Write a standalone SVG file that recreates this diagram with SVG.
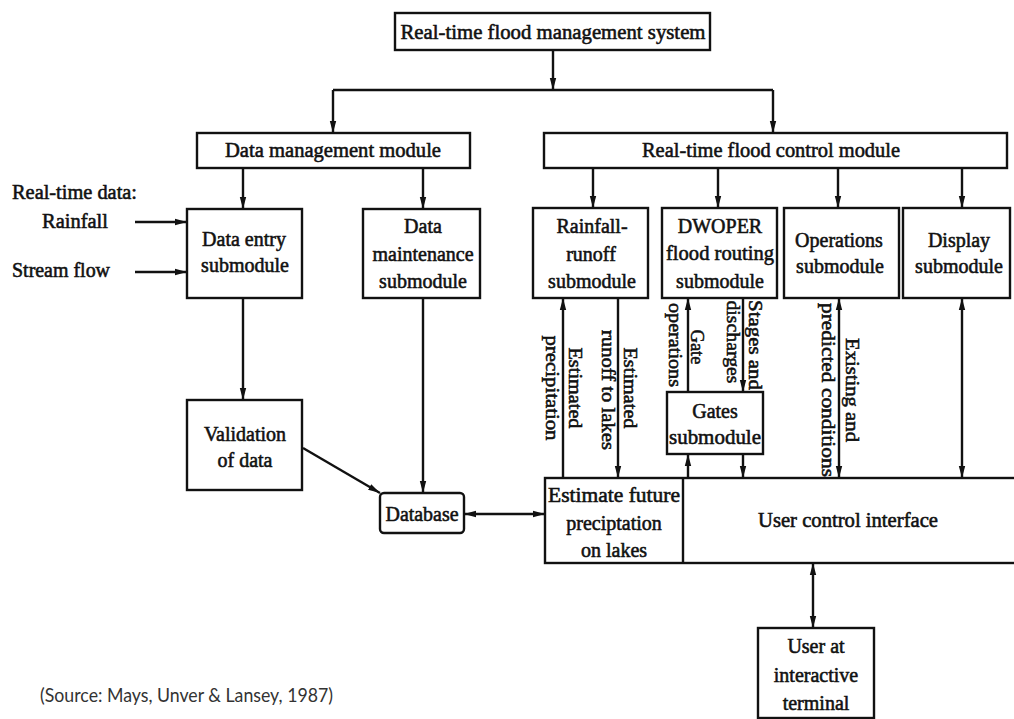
<svg xmlns="http://www.w3.org/2000/svg" width="1014" height="719" viewBox="0 0 1014 719">
  <style>
    .box { fill: #ffffff; stroke: #111111; stroke-width: 2.4; }
    .t { font-family: "Liberation Serif", "Times New Roman", serif; font-size: 20px; fill: #111111; stroke: #111111; stroke-width: 0.55; text-anchor: middle; }
    .tl { text-anchor: start; }
    .r { font-size: 19px; }
    .wire { fill: none; stroke: #111111; stroke-width: 2.4; }
    .src { font-family: "Lato", "Open Sans", "Liberation Sans", sans-serif; font-size: 19px; fill: #333333; }
  </style>
  <defs>
    <marker id="ah" viewBox="0 0 12 8" refX="12" refY="4" markerWidth="12" markerHeight="8" markerUnits="userSpaceOnUse" orient="auto">
      <path d="M0,0.8 L12,4 L0,7.2 z" fill="#111111"/>
    </marker>
    <marker id="ahs" viewBox="0 0 12 8" refX="0" refY="4" markerWidth="12" markerHeight="8" markerUnits="userSpaceOnUse" orient="auto">
      <path d="M12,0.8 L0,4 L12,7.2 z" fill="#111111"/>
    </marker>
  </defs>

  <rect width="1014" height="719" fill="#ffffff"/>

  <!-- connectors -->
  <g id="connectors">
    <path class="wire" d="M553,50 V90" marker-end="url(#ah)"/>
    <path class="wire" d="M333,90 H773"/>
    <path class="wire" d="M333,90 V133" marker-end="url(#ah)"/>
    <path class="wire" d="M773,90 V133" marker-end="url(#ah)"/>

    <path class="wire" d="M243,168 V209" marker-end="url(#ah)"/>
    <path class="wire" d="M423,168 V209" marker-end="url(#ah)"/>

    <path class="wire" d="M593,168 V208" marker-end="url(#ah)"/>
    <path class="wire" d="M718,168 V208" marker-end="url(#ah)"/>
    <path class="wire" d="M838,168 V208" marker-end="url(#ah)"/>
    <path class="wire" d="M962,168 V208" marker-end="url(#ah)"/>

    <path class="wire" d="M135,222 H187" marker-end="url(#ah)"/>
    <path class="wire" d="M135,272 H187" marker-end="url(#ah)"/>

    <path class="wire" d="M243,298 V400" marker-end="url(#ah)"/>
    <path class="wire" d="M303,448 L380,493" marker-end="url(#ah)"/>
    <path class="wire" d="M423,298 V493" marker-end="url(#ah)"/>
    <path class="wire" d="M464,514 H545" marker-start="url(#ahs)" marker-end="url(#ah)"/>

    <path class="wire" d="M563,478 V298" marker-end="url(#ah)"/>
    <path class="wire" d="M618,298 V478" marker-end="url(#ah)"/>
    <path class="wire" d="M688,392 V298" marker-end="url(#ah)"/>
    <path class="wire" d="M743,298 V392" marker-end="url(#ah)"/>
    <path class="wire" d="M688,478 V454" marker-end="url(#ah)"/>
    <path class="wire" d="M743,454 V478" marker-end="url(#ah)"/>
    <path class="wire" d="M839,298 V478" marker-start="url(#ahs)" marker-end="url(#ah)"/>
    <path class="wire" d="M962,298 V478" marker-start="url(#ahs)" marker-end="url(#ah)"/>
    <path class="wire" d="M813,563 V628" marker-start="url(#ahs)" marker-end="url(#ah)"/>
  </g>

  <!-- flow labels along the vertical links -->
  <g id="flow-labels" class="t r">
    <text transform="translate(569,388) rotate(90)" textLength="81" lengthAdjust="spacingAndGlyphs">Estimated</text>
    <text transform="translate(546,388) rotate(90)" textLength="105" lengthAdjust="spacingAndGlyphs">precipitation</text>
    <text transform="translate(624,388) rotate(90)" textLength="81" lengthAdjust="spacingAndGlyphs">Estimated</text>
    <text transform="translate(602,390) rotate(90)" textLength="120" lengthAdjust="spacingAndGlyphs">runoff to lakes</text>
    <text transform="translate(691,347) rotate(90)" textLength="35" lengthAdjust="spacingAndGlyphs">Gate</text>
    <text transform="translate(669,345) rotate(90)" textLength="84" lengthAdjust="spacingAndGlyphs">operations</text>
    <text transform="translate(749,345) rotate(90)" textLength="90" lengthAdjust="spacingAndGlyphs">Stages and</text>
    <text transform="translate(727,342) rotate(90)" textLength="83" lengthAdjust="spacingAndGlyphs">discharges</text>
    <text transform="translate(846,390) rotate(90)" textLength="104" lengthAdjust="spacingAndGlyphs">Existing and</text>
    <text transform="translate(822,390) rotate(90)" textLength="174" lengthAdjust="spacingAndGlyphs">predicted conditions</text>
  </g>

  <!-- inputs -->
  <g id="inputs" class="t tl">
    <text x="12" y="199" textLength="125" lengthAdjust="spacingAndGlyphs">Real-time data:</text>
    <text x="42" y="228" textLength="66" lengthAdjust="spacingAndGlyphs">Rainfall</text>
    <text x="12" y="277" textLength="98" lengthAdjust="spacingAndGlyphs">Stream flow</text>
  </g>

  <g id="system">
    <rect class="box" x="395" y="13" width="315" height="37"/>
    <text class="t" x="553" y="39" textLength="305" lengthAdjust="spacingAndGlyphs">Real-time flood management system</text>
  </g>

  <g id="data-management">
    <rect class="box" x="197" y="133" width="273" height="35"/>
    <text class="t" x="333" y="157" textLength="216" lengthAdjust="spacingAndGlyphs">Data management module</text>
  </g>

  <g id="flood-control">
    <rect class="box" x="544" y="133" width="463" height="35"/>
    <text class="t" x="771" y="157" textLength="258" lengthAdjust="spacingAndGlyphs">Real-time flood control module</text>
  </g>

  <g id="data-entry">
    <rect class="box" x="187" y="209" width="115" height="89"/>
    <text class="t" x="244" y="246">Data entry</text>
    <text class="t" x="245" y="272">submodule</text>
  </g>

  <g id="data-maintenance">
    <rect class="box" x="363" y="209" width="117" height="89"/>
    <text class="t" x="423" y="233">Data</text>
    <text class="t" x="423" y="261">maintenance</text>
    <text class="t" x="423" y="288">submodule</text>
  </g>

  <g id="rainfall-runoff">
    <rect class="box" x="533" y="208" width="115" height="90"/>
    <text class="t" x="592" y="233">Rainfall-</text>
    <text class="t" x="591" y="261">runoff</text>
    <text class="t" x="592" y="288">submodule</text>
  </g>

  <g id="dwoper">
    <rect class="box" x="662" y="208" width="115" height="90"/>
    <text class="t" x="720" y="233">DWOPER</text>
    <text class="t" x="720" y="260" textLength="108" lengthAdjust="spacingAndGlyphs">flood routing</text>
    <text class="t" x="720" y="288">submodule</text>
  </g>

  <g id="operations">
    <rect class="box" x="784" y="208" width="115" height="90"/>
    <text class="t" x="839" y="247">Operations</text>
    <text class="t" x="840" y="273">submodule</text>
  </g>

  <g id="display">
    <rect class="box" x="903" y="208" width="107" height="90"/>
    <text class="t" x="959" y="247">Display</text>
    <text class="t" x="959" y="273">submodule</text>
  </g>

  <g id="gates">
    <rect class="box" x="667" y="392" width="96" height="62"/>
    <text class="t" x="715" y="418">Gates</text>
    <text class="t" x="715" y="444" textLength="92" lengthAdjust="spacingAndGlyphs">submodule</text>
  </g>

  <g id="validation">
    <rect class="box" x="187" y="400" width="115" height="90"/>
    <text class="t" x="245" y="441">Validation</text>
    <text class="t" x="245" y="467">of data</text>
  </g>

  <g id="database">
    <rect class="box" x="380" y="493" width="84" height="40" rx="4"/>
    <text class="t" x="422" y="521" textLength="73" lengthAdjust="spacingAndGlyphs">Database</text>
  </g>

  <g id="user-control-interface">
    <rect class="box" x="545" y="478" width="480" height="85"/>
    <line class="wire" x1="683" y1="478" x2="683" y2="563"/>
    <text class="t" x="848" y="527" textLength="180" lengthAdjust="spacingAndGlyphs">User control interface</text>
  </g>

  <g id="estimate-precipitation">
    <text class="t" x="614" y="502" textLength="132" lengthAdjust="spacingAndGlyphs">Estimate future</text>
    <text class="t" x="614" y="530">preciptation</text>
    <text class="t" x="614" y="557">on lakes</text>
  </g>

  <g id="user-terminal">
    <rect class="box" x="758" y="628" width="116" height="90"/>
    <text class="t" x="816" y="653">User at</text>
    <text class="t" x="816" y="682">interactive</text>
    <text class="t" x="816" y="710">terminal</text>
  </g>

  <text class="src" x="40" y="702" textLength="293" lengthAdjust="spacingAndGlyphs">(Source: Mays, Unver &amp; Lansey, 1987)</text>
</svg>
